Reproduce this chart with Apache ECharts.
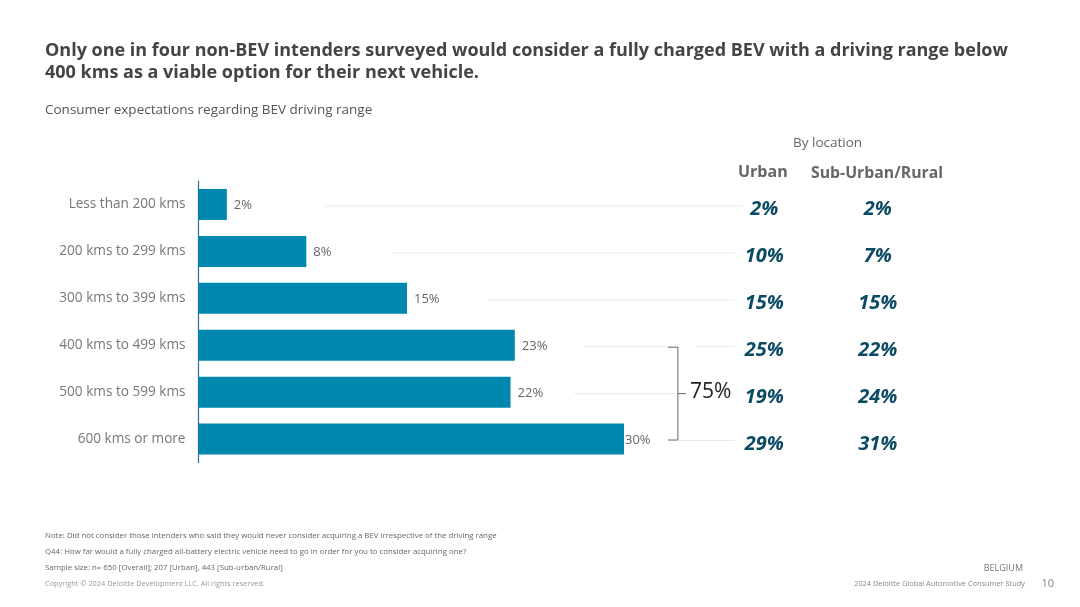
<!DOCTYPE html>
<html>
<head>
<meta charset="utf-8">
<style>html,body{margin:0;padding:0;background:#fff}#c{width:1080px;height:607px}</style>
<script src="https://cdn.jsdelivr.net/npm/echarts@6/dist/echarts.min.js"></script>
</head>
<body>
<div id="c"></div>
<script>
const categories = ['Less than 200 kms','200 kms to 299 kms','300 kms to 399 kms','400 kms to 499 kms','500 kms to 599 kms','600 kms or more'];
const overallBars = [2, 7.6, 14.7, 22.3, 22, 30];
const overallLabels = ['2%','8%','15%','23%','22%','30%'];
const urbanLabels = ['2%','10%','15%','25%','19%','29%'];
const ruralLabels = ['2%','7%','15%','22%','24%','31%'];
const leaderStart = [8.9, 13.65, 20.4, 27.2, 26.5, 33.9, 35.1];
const leaderEnd = [38.4, 37.8, 37.8, 33.2, 33.8, 37.8, 37.8];
const leaderRow = [0, 1, 2, 3, 4, 5, 3];
const bracketRows = [3, 5];
const bracketTotal = '75%';
const urbanX = 39.9, ruralX = 47.9, bracketX = 33.8;

const FONT = '"Open Sans"';
const chart = echarts.init(document.getElementById('c'), null, {renderer:'canvas'});
const text = (x,y,t,size,color,extra) => ({type:'text',x,y,style:Object.assign({text:t,font:`${extra&&extra.weight||'normal'} ${size}px ${FONT}`,fill:color,textVerticalAlign:'middle'},extra&&extra.align?{textAlign:extra.align}:{})});
const columnLabel = labels => ({show:true,position:'inside',offset:[0,5],color:'#0b4a63',opacity:1,fontSize:20,fontWeight:'bold',fontStyle:'italic',fontFamily:FONT,
  formatter:p=>labels[p.dataIndex]});

chart.setOption({
  animation:false,
  backgroundColor:'#fff',
  textStyle:{fontFamily:FONT},
  grid:{left:198.5,right:30.5,top:181,bottom:144.5},
  xAxis:{type:'value',min:0,max:60,show:false},
  yAxis:{type:'category',inverse:true,data:categories,
    axisTick:{show:false},
    axisLine:{lineStyle:{color:'#2a6f97',width:1.2}},
    axisLabel:{color:'#777',fontSize:13.6,margin:13,fontFamily:FONT,padding:[2,0,0,0]}},
  series:[
    {type:'custom',silent:true,z:1,
      data:leaderRow.map((r,i)=>[leaderStart[i],leaderEnd[i],r]),
      renderItem:(p,api)=>{
        const a=api.coord([api.value(0),api.value(2)]),b=api.coord([api.value(1),api.value(2)]);
        return {type:'line',shape:{x1:a[0],y1:a[1]+1.5,x2:b[0],y2:b[1]+1.5},style:{stroke:'#e9e9e9',lineWidth:1}};
      }},
    {type:'bar',z:2,data:overallBars,barWidth:31,
      itemStyle:{color:'#0087ad'},
      label:{show:true,position:'right',color:'#666',fontSize:13,fontFamily:FONT,
        formatter:p=>overallLabels[p.dataIndex]},
      labelLayout:p=>p.dataIndex===5?{dx:-4,dy:1}:{dx:2,dy:1}},
    {type:'scatter',z:3,symbolSize:0,itemStyle:{opacity:1},data:urbanLabels.map((l,i)=>[urbanX,i]),label:columnLabel(urbanLabels)},
    {type:'scatter',z:3,symbolSize:0,itemStyle:{opacity:1},data:ruralLabels.map((l,i)=>[ruralX,i]),label:columnLabel(ruralLabels)},
    {type:'custom',z:3,silent:true,data:[[bracketX,bracketRows[0],bracketRows[1]]],
      renderItem:(p,api)=>{
        const t=api.coord([api.value(0),api.value(1)]),b=api.coord([api.value(0),api.value(2)]);
        const x=t[0],y1=t[1]+2,y2=b[1]+1,m=(y1+y2)/2,st={stroke:'#666',lineWidth:1,fill:null};
        return {type:'group',children:[
          {type:'polyline',shape:{points:[[x-10,y1],[x,y1],[x,y2],[x-10,y2]]},style:st},
          {type:'line',shape:{x1:x,y1:m,x2:x+8,y2:m},style:st},
          {type:'text',x:x+12,y:m-2,style:{text:bracketTotal,font:`21px ${FONT}`,fill:'#222',textVerticalAlign:'middle'}}
        ]};
      }}
  ],
  graphic:[
    text(45,51,'Only one in four non-BEV intenders surveyed would consider a fully charged BEV with a driving range below',18,'#444',{weight:'bold'}),
    text(45,73,'400 kms as a viable option for their next vehicle.',18,'#444',{weight:'bold'}),
    text(45,110,'Consumer expectations regarding BEV driving range',13.5,'#555'),
    text(793,143.5,'By location',13.5,'#666'),
    text(738,172,'Urban',16,'#666',{weight:'bold'}),
    text(811,173,'Sub-Urban/Rural',15.8,'#666',{weight:'bold'}),
    text(45,536,'Note: Did not consider those intenders who said they would never consider acquiring a BEV irrespective of the driving range',7.85,'#666'),
    text(45,552,'Q44: How far would a fully charged all-battery electric vehicle need to go in order for you to consider acquiring one?',7.85,'#666'),
    text(45,568,'Sample size: n= 650 [Overall]; 207 [Urban], 443 [Sub-urban/Rural]',7.85,'#666'),
    text(45,584,'Copyright © 2024 Deloitte Development LLC. All rights reserved.',7.4,'#999'),
    text(1023,568,'BELGIUM',9,'#777',{align:'right'}),
    text(1025,584,'2024 Deloitte Global Automotive Consumer Study',7.4,'#888',{align:'right'}),
    text(1054,584,'10',11,'#888',{align:'right'})
  ]
});
</script>
</body>
</html>
